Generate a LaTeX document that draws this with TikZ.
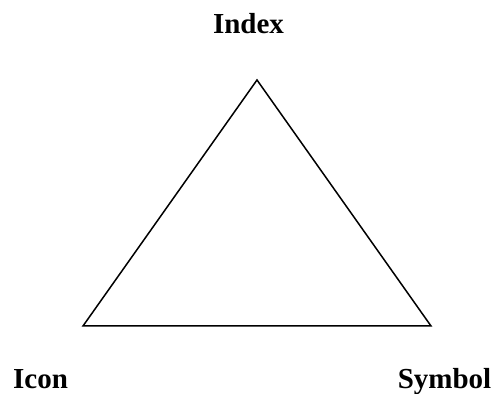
\documentclass[tikz,border=0pt]{standalone}
\usepackage{fontspec}
\setmainfont{Liberation Serif}
\usetikzlibrary{positioning}

\begin{document}
\begin{tikzpicture}[
  x=0.5pt,y=0.5pt,
  corner/.style={font=\fontsize{14.5}{17}\selectfont\bfseries,inner sep=0pt,anchor=base},
  side/.style={draw,line width=0.75pt,line join=miter}
]
  \useasboundingbox (0,0) rectangle (494,394);
  % vertices of the triangle
  \coordinate (apex) at (257,314);
  \coordinate (lowleft) at (83,68);
  \coordinate (lowright) at (431,68);
  \draw[side] (apex) -- (lowleft) -- (lowright) -- cycle;
  % labels
  \node[corner] (index) at (248.5,360) {Index};
  \node[corner] (icon) at (40.5,5) {Icon};
  \node[corner] (symbol) at (444.5,5) {Symbol};
\end{tikzpicture}
\end{document}
